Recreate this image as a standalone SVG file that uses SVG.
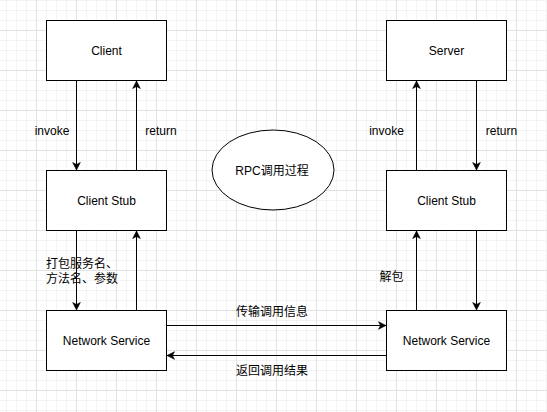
<svg xmlns="http://www.w3.org/2000/svg" width="547" height="412" viewBox="0 0 547 412">
  <style>
    .box { fill: #ffffff; stroke: #000000; stroke-width: 1; }
    .edge { fill: none; stroke: #000000; stroke-width: 1; }
    .lbl { font-family: "Liberation Sans", "Noto Sans CJK SC", sans-serif; font-size: 12px; fill: #000000; }
    .c { text-anchor: middle; }
  </style>
  <defs>
    <pattern id="grid" patternUnits="userSpaceOnUse" x="36" y="30" width="40" height="40">
      <rect x="10" y="0" width="1" height="40" fill="#f3f3f3"/>
      <rect x="20" y="0" width="1" height="40" fill="#f3f3f3"/>
      <rect x="30" y="0" width="1" height="40" fill="#f3f3f3"/>
      <rect x="0" y="10" width="40" height="1" fill="#f3f3f3"/>
      <rect x="0" y="20" width="40" height="1" fill="#f3f3f3"/>
      <rect x="0" y="30" width="40" height="1" fill="#f3f3f3"/>
      <rect x="0" y="0" width="1" height="40" fill="#e2e2e2"/>
      <rect x="0" y="0" width="40" height="1" fill="#e2e2e2"/>
    </pattern>
    <marker id="arrow" markerUnits="userSpaceOnUse" viewBox="-8 -5 9 10" refX="0" refY="0" markerWidth="9" markerHeight="10" orient="auto">
      <path d="M0,0 L-7.5,-3.8 L-5.5,0 L-7.5,3.8 Z" fill="#000000" stroke="#000000" stroke-width="0.6"/>
    </marker>
  </defs>

  <rect x="0" y="0" width="547" height="412" fill="#ffffff"/>
  <rect x="0" y="0" width="547" height="412" fill="url(#grid)"/>

  <g id="connectors">
    <path class="edge" d="M76.5,80.5 L76.5,170" marker-end="url(#arrow)"/>
    <path class="edge" d="M136.5,170.5 L136.5,81" marker-end="url(#arrow)"/>
    <path class="edge" d="M76.5,230.5 L76.5,310" marker-end="url(#arrow)"/>
    <path class="edge" d="M136.5,310.5 L136.5,231" marker-end="url(#arrow)"/>
    <path class="edge" d="M416.5,170.5 L416.5,81" marker-end="url(#arrow)"/>
    <path class="edge" d="M476.5,80.5 L476.5,170" marker-end="url(#arrow)"/>
    <path class="edge" d="M416.5,310.5 L416.5,231" marker-end="url(#arrow)"/>
    <path class="edge" d="M476.5,230.5 L476.5,310" marker-end="url(#arrow)"/>
    <path class="edge" d="M166.5,325.5 L386,325.5" marker-end="url(#arrow)"/>
    <path class="edge" d="M386.5,355.5 L167,355.5" marker-end="url(#arrow)"/>
    <text class="lbl c" x="52" y="134.5">invoke</text>
    <text class="lbl c" x="161" y="134.5">return</text>
    <text class="lbl c" x="386.5" y="134.5">invoke</text>
    <text class="lbl c" x="501.5" y="134.5">return</text>
    <text class="lbl" x="46" y="267.5">打包服务名、</text>
    <text class="lbl" x="46" y="282.5">方法名、参数</text>
    <text class="lbl" x="379.5" y="281">解包</text>
    <text class="lbl" x="236" y="316">传输调用信息</text>
    <text class="lbl" x="236" y="375">返回调用结果</text>
  </g>

  <g id="client">
    <rect class="box" x="46.5" y="20.5" width="120" height="60"/>
    <text class="lbl c" x="106.5" y="54.5">Client</text>
  </g>
  <g id="client-stub">
    <rect class="box" x="46.5" y="170.5" width="120" height="60"/>
    <text class="lbl c" x="106.5" y="204.5">Client Stub</text>
  </g>
  <g id="network-service-left">
    <rect class="box" x="46.5" y="310.5" width="120" height="60"/>
    <text class="lbl c" x="106.5" y="344.5">Network Service</text>
  </g>
  <g id="server">
    <rect class="box" x="386.5" y="20.5" width="120" height="60"/>
    <text class="lbl c" x="446.5" y="54.5">Server</text>
  </g>
  <g id="server-stub">
    <rect class="box" x="386.5" y="170.5" width="120" height="60"/>
    <text class="lbl c" x="446.5" y="204.5">Client Stub</text>
  </g>
  <g id="network-service-right">
    <rect class="box" x="386.5" y="310.5" width="120" height="60"/>
    <text class="lbl c" x="446.5" y="344.5">Network Service</text>
  </g>
  <g id="rpc-title">
    <ellipse class="box" cx="273" cy="170" rx="61" ry="40"/>
    <text class="lbl c" x="272" y="175">RPC调用过程</text>
  </g>
</svg>
